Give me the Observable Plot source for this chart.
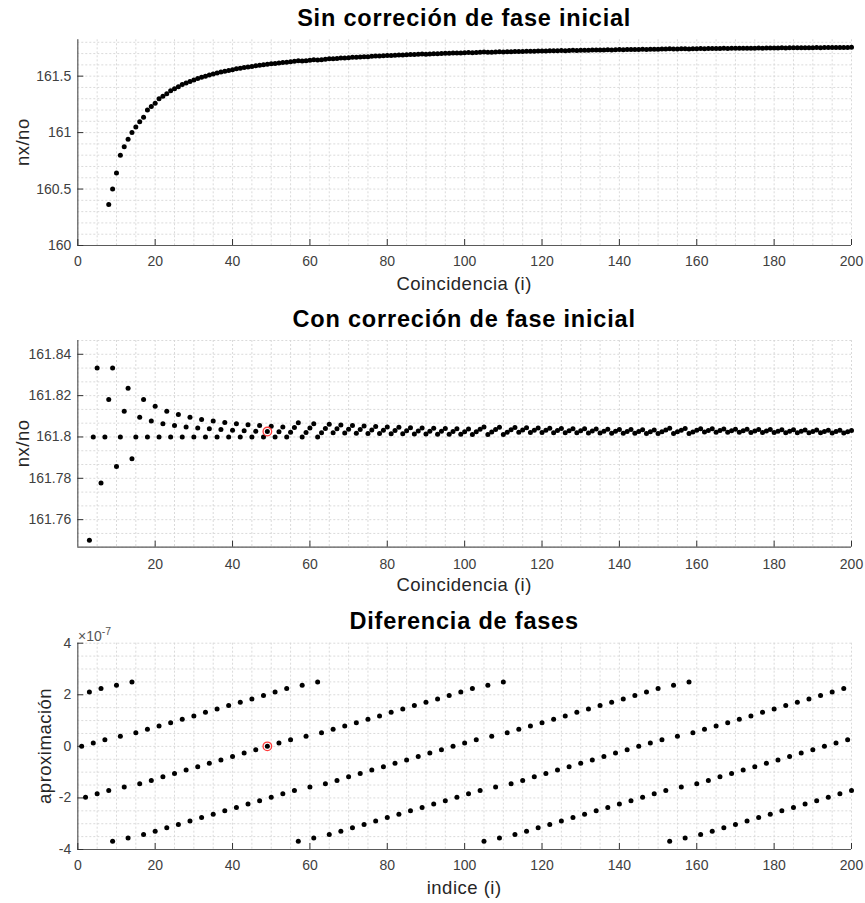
<!DOCTYPE html>
<html><head><meta charset="utf-8">
<script src="https://cdn.jsdelivr.net/npm/d3@7"></script>
<script src="https://cdn.jsdelivr.net/npm/@observablehq/plot@0.6"></script>
<style>
body{margin:0;background:#fff;}
#root{position:relative;width:865px;height:903px;background:#fff;font-family:"Liberation Sans",Arial,sans-serif;overflow:hidden;}
#root svg{position:absolute;left:0;}
</style></head><body><div id="root"></div>
<script>
// ---------- data ----------
const topStart = 8; // first index shown in the top panel
const topValues = [
160.3636,160.5,160.6429,160.8,160.875,160.9412,161.0,161.05,161.0952,161.1364,
161.2,161.2308,161.2593,161.3,161.3226,161.3438,161.3714,161.3889,161.4054,161.425,
161.439,161.4524,161.4667,161.4783,161.4894,161.5,161.5098,161.5192,161.5273,161.5357,
161.5439,161.55,161.5574,161.5645,161.5692,161.5758,161.5821,161.5857,161.5915,161.5972,
161.6,161.6053,161.6104,161.6125,161.6173,161.622,161.6235,161.6279,161.6322,161.6364,
161.6333,161.6374,161.6413,161.6452,161.6421,161.6458,161.6495,161.6531,161.6535,161.6569,
161.6602,161.6604,161.6636,161.6667,161.6667,161.6696,161.6726,161.6724,161.6752,161.678,
161.6777,161.6803,161.6829,161.6825,161.685,161.6875,161.687,161.6894,161.6917,161.6912,
161.6934,161.6957,161.695,161.6972,161.6993,161.6986,161.7007,161.7027,161.702,161.704,
161.7059,161.7051,161.707,161.7089,161.7081,161.7099,161.7117,161.7134,161.7108,161.7126,
161.7143,161.716,161.7135,161.7151,161.7168,161.7184,161.7175,161.7191,161.7207,161.7198,
161.7213,161.7228,161.7219,161.7234,161.7249,161.724,161.7254,161.7268,161.7259,161.7273,
161.7286,161.7277,161.7291,161.7304,161.7295,161.7308,161.7321,161.7311,161.7324,161.7336,
161.7327,161.7339,161.7352,161.7342,161.7354,161.7366,161.7357,161.7368,161.738,161.7371,
161.7382,161.7393,161.7384,161.7395,161.7406,161.7417,161.7397,161.7407,161.7418,161.7429,
161.7409,161.7419,161.743,161.744,161.7431,161.7441,161.7451,161.7442,161.7452,161.7462,
161.7453,161.7462,161.7472,161.7463,161.7472,161.7481,161.7473,161.7482,161.7491,161.7482,
161.7491,161.75,161.7491,161.75,161.7509,161.75,161.7509,161.7517,161.7509,161.7517,
161.7525,161.7517,161.7525,161.7533,161.7525,161.7533,161.7541,161.7532,161.7541,161.7548,
161.754,161.7548,161.7556];

const midStart = 3; // first index shown in the middle panel
const midValues = [
161.75,161.8,161.83333,161.77778,161.8,161.81818,161.83333,161.78571,161.8,161.8125,
161.82353,161.78947,161.8,161.80952,161.81818,161.8,161.80769,161.81481,161.8,161.80645,
161.8125,161.8,161.80556,161.81081,161.8,161.80488,161.80952,161.8,161.80435,161.80851,
161.8,161.80392,161.80769,161.8,161.80357,161.80702,161.8,161.80328,161.80645,161.8,
161.80303,161.80597,161.8,161.80282,161.80556,161.8,161.80263,161.80519,161.8,161.80247,
161.80488,161.8,161.80233,161.8046,161.80682,161.8,161.8022,161.80435,161.80645,161.8,
161.80208,161.80412,161.80612,161.80198,161.80392,161.80583,161.80189,161.80374,161.80556,161.8018,
161.80357,161.80531,161.80172,161.80342,161.80508,161.80165,161.80328,161.80488,161.80159,161.80315,
161.80469,161.80153,161.80303,161.80451,161.80147,161.80292,161.80435,161.80142,161.80282,161.8042,
161.80137,161.80272,161.80405,161.80132,161.80263,161.80392,161.80128,161.80255,161.8038,161.80124,
161.80247,161.80368,161.80488,161.8012,161.8024,161.80357,161.80473,161.80117,161.80233,161.80347,
161.8046,161.80226,161.80337,161.80447,161.8022,161.80328,161.80435,161.80214,161.80319,161.80423,
161.80208,161.80311,161.80412,161.80203,161.80303,161.80402,161.80198,161.80296,161.80392,161.80193,
161.80288,161.80383,161.80189,161.80282,161.80374,161.80184,161.80275,161.80365,161.8018,161.80269,
161.80357,161.80176,161.80263,161.80349,161.80172,161.80258,161.80342,161.80169,161.80252,161.80335,
161.80417,161.80165,161.80247,161.80328,161.80408,161.80162,161.80242,161.80321,161.804,161.80237,
161.80315,161.80392,161.80233,161.80309,161.80385,161.80228,161.80303,161.80377,161.80224,161.80297,
161.8037,161.8022,161.80292,161.80364,161.80216,161.80287,161.80357,161.80212,161.80282,161.80351,
161.80208,161.80277,161.80345,161.80205,161.80272,161.80339,161.80201,161.80268,161.80333,161.80198,
161.80263,161.80328,161.80195,161.80259,161.80323,161.80192,161.80255,161.80317];

const botStart = 1; // first index shown in the bottom panel
const botValues = [ // in units of 1e-7
0,-1.97,2.11,0.13,-1.84,2.24,0.26,-1.71,-3.68,2.37,
0.39,-1.58,-3.55,2.5,0.53,-1.45,-3.42,0.66,-1.32,-3.29,
0.79,-1.18,-3.16,0.92,-1.05,-3.03,1.05,-0.92,-2.89,1.18,
-0.79,-2.76,1.32,-0.66,-2.63,1.45,-0.53,-2.5,1.58,-0.39,
-2.37,1.71,-0.26,-2.24,1.84,-0.13,-2.11,1.97,0,-1.97,
2.11,0.13,-1.84,2.24,0.26,-1.71,-3.68,2.37,0.39,-1.58,
-3.55,2.5,0.53,-1.45,-3.42,0.66,-1.32,-3.29,0.79,-1.18,
-3.16,0.92,-1.05,-3.03,1.05,-0.92,-2.89,1.18,-0.79,-2.76,
1.32,-0.66,-2.63,1.45,-0.53,-2.5,1.58,-0.39,-2.37,1.71,
-0.26,-2.24,1.84,-0.13,-2.11,1.97,0,-1.97,2.11,0.13,
-1.84,2.24,0.26,-1.71,-3.68,2.37,0.39,-1.58,-3.55,2.5,
0.53,-1.45,-3.42,0.66,-1.32,-3.29,0.79,-1.18,-3.16,0.92,
-1.05,-3.03,1.05,-0.92,-2.89,1.18,-0.79,-2.76,1.32,-0.66,
-2.63,1.45,-0.53,-2.5,1.58,-0.39,-2.37,1.71,-0.26,-2.24,
1.84,-0.13,-2.11,1.97,0,-1.97,2.11,0.13,-1.84,2.24,
0.26,-1.71,-3.68,2.37,0.39,-1.58,-3.55,2.5,0.53,-1.45,
-3.42,0.66,-1.32,-3.29,0.79,-1.18,-3.16,0.92,-1.05,-3.03,
1.05,-0.92,-2.89,1.18,-0.79,-2.76,1.32,-0.66,-2.63,1.45,
-0.53,-2.5,1.58,-0.39,-2.37,1.71,-0.26,-2.24,1.84,-0.13,
-2.11,1.97,0,-1.97,2.11,0.13,-1.84,2.24,0.26,-1.71];

const markIndex = 49;       // highlighted point
const markMid = 161.80263;
const markBot = 0;

const xTicksFull = [0,20,40,60,80,100,120,140,160,180,200];
const xTicksMid  = [20,40,60,80,100,120,140,160,180,200];
const topYTicks = [160,160.5,161,161.5];
const midYTicks = [161.76,161.78,161.8,161.82,161.84];
const botYTicks = [-4,-2,0,2,4];

const titles = ["Sin correción de fase inicial","Con correción de fase inicial","Diferencia de fases"];
const xLabels = ["Coincidencia (i)","Coincidencia (i)","indice (i)"];
const yLabels = ["nx/no","nx/no","aproximación"];

// ---------- drawing ----------
const root = document.getElementById("root");
const W = 865, ML = 77.3, MR = 14;
const axisColor = "#5a5a5a", tickText = "#404040", gridColor = "#d6d6d6";

function rows(start, vals){ return vals.map((v,j)=>({i:start+j, v})); }

function panel(o){
  const innerW = W - ML - MR, innerH = o.height - o.mt - o.mb;
  const marks = [
    Plot.ruleX(o.xGrid, {stroke: gridColor, strokeWidth: 0.9, strokeDasharray: "2,2"}),
    Plot.ruleY(o.yGrid, {stroke: gridColor, strokeWidth: 0.9, strokeDasharray: "2,2"}),
    Plot.ruleY([o.yDomain[0]], {stroke: axisColor, strokeWidth: 1.2}),
    Plot.ruleX([o.xDomain[0]], {stroke: axisColor, strokeWidth: 1.2}),
    Plot.ruleX(o.xTicks, {insetTop: innerH - 6, stroke: "#333", strokeWidth: 1}),
    Plot.ruleY(o.yTicks, {insetRight: innerW - 6, stroke: "#333", strokeWidth: 1}),
    Plot.axisX({ticks: o.xTicks, tickSize: 0, tickPadding: o.xPad, fontSize: 14, fill: tickText, tickFormat: d => String(d), label: null}),
    Plot.axisY({ticks: o.yTicks, tickSize: 0, tickPadding: 6.5, fontSize: 14, fill: tickText, tickFormat: d => String(d), label: null}),
    Plot.dot(o.pts, {x: "i", y: "v", r: 2.5, fill: "#000", stroke: null})
  ];
  if (o.mark) marks.push(Plot.dot(o.mark, {x: "i", y: "v", r: 4.3, fill: "none", stroke: "#ff3b3b", strokeWidth: 1.3}));
  const svg = Plot.plot({
    width: W, height: o.height,
    marginTop: o.mt, marginBottom: o.mb, marginLeft: ML, marginRight: MR,
    x: {domain: o.xDomain}, y: {domain: o.yDomain},
    style: {fontFamily: "'Liberation Sans', Arial, sans-serif", fontSize: "14px", background: "transparent"},
    marks
  });
  svg.style.top = o.top + "px";
  root.appendChild(svg);
}

const xGrid = d3.range(0, 201, 5);
panel({top: 0, height: 300, mt: 39.3, mb: 55, xDomain: [0,200], yDomain: [160, 161.822],
  xTicks: xTicksFull, yTicks: topYTicks, xGrid, yGrid: d3.range(0, 19).map(k => 160 + k*0.1),
  xPad: 11, pts: rows(topStart, topValues)});
panel({top: 300, height: 300, mt: 40, mb: 53.3, xDomain: [0,200], yDomain: [161.74667, 161.84667],
  xTicks: xTicksMid, yTicks: midYTicks, xGrid, yGrid: d3.range(-2, 14).map(k => 161.76 + k*0.02/3),
  xPad: 12, pts: rows(midStart, midValues), mark: [{i: markIndex, v: markMid}]});
panel({top: 600, height: 303, mt: 42.7, mb: 54, xDomain: [0,200], yDomain: [-4, 4],
  xTicks: xTicksFull, yTicks: botYTicks, xGrid, yGrid: d3.range(-8, 9).map(k => k*0.5),
  xPad: 11, pts: rows(botStart, botValues), mark: [{i: markIndex, v: markBot}]});

// ---------- text overlay ----------
const ov = d3.create("svg").attr("width", W).attr("height", 903)
  .style("top", "0px").style("pointer-events", "none")
  .style("font-family", "'Liberation Sans', Arial, sans-serif");
const cx = ML + (W - ML - MR) / 2;
const titleY = [26, 326.6, 629.3];
const xLabY = [289.5, 591, 893.5];
const yLab = [[28.5, 142.2], [28.5, 443.4], [50.5, 745.9]];
titles.forEach((t, k) => ov.append("text").attr("x", cx).attr("y", titleY[k]).attr("text-anchor", "middle")
  .attr("font-size", 23.5).attr("font-weight", "bold").attr("letter-spacing", 0.8).attr("fill", "#000").text(t));
xLabels.forEach((t, k) => ov.append("text").attr("x", cx).attr("y", xLabY[k]).attr("text-anchor", "middle")
  .attr("font-size", 18.5).attr("letter-spacing", 0.5).attr("fill", "#262626").text(t));
yLabels.forEach((t, k) => ov.append("text").attr("transform", `translate(${yLab[k][0]},${yLab[k][1]}) rotate(-90)`)
  .attr("text-anchor", "middle").attr("font-size", 18.5).attr("letter-spacing", 0.5).attr("fill", "#262626").text(t));
const ex = ov.append("text").attr("x", 78).attr("y", 640.5).attr("font-size", 14).attr("fill", "#555");
ex.append("tspan").text("×10");
ex.append("tspan").attr("font-size", 10.5).attr("dy", -6).text("-7");
root.appendChild(ov.node());
</script></body></html>
